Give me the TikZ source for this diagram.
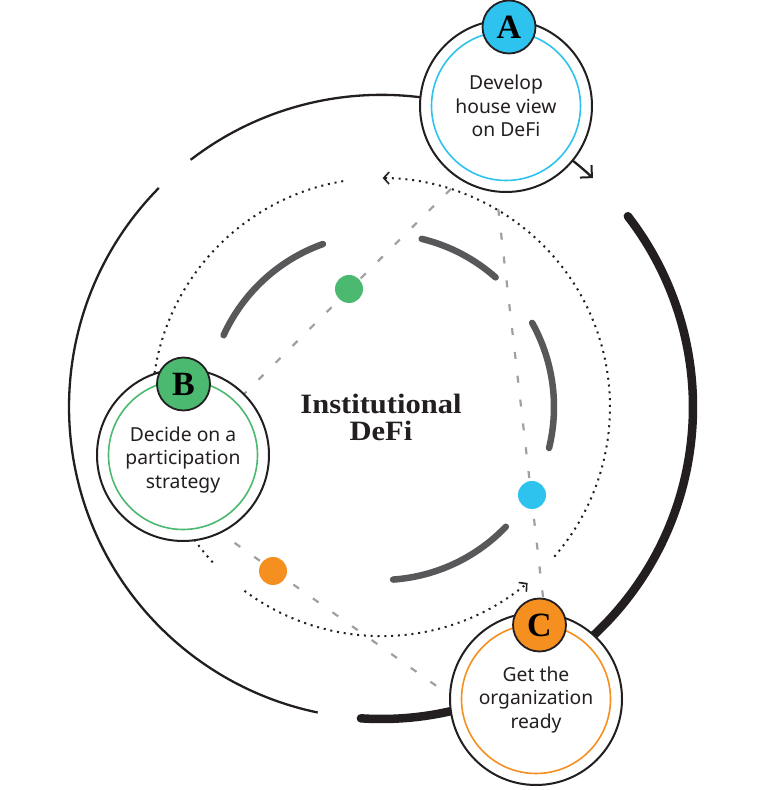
\documentclass[tikz,border=0pt]{standalone}
\usepackage{fontspec}
\newfontfamily\labelfont{Noto Sans}
\newfontfamily\headfont{Liberation Serif}
\usetikzlibrary{arrows.meta}
\definecolor{inkblack}{HTML}{231F20}
\definecolor{acyan}{HTML}{2DC3EE}
\definecolor{bgreen}{HTML}{4BB96F}
\definecolor{corange}{HTML}{F58F1F}
\definecolor{arcgray}{HTML}{58585A}
\definecolor{dashgray}{HTML}{A0A0A0}
\begin{document}
\begin{tikzpicture}[x=1pt,y=1pt,
  thinring/.style={draw=inkblack,line width=2.3pt},
  thickring/.style={draw=inkblack,line width=8.5pt,line cap=round},
  dotring/.style={draw=inkblack,line width=2pt,dash pattern=on 2pt off 4.8pt},
  grayarc/.style={draw=arcgray,line width=6.5pt,line cap=round},
  dashline/.style={draw=dashgray,line width=2.2pt,dash pattern=on 7pt off 17pt},
  bigarrow/.style={-{Straight Barb[length=8.5pt,width=17pt,line width=2pt]}},
  smallarrow/.style={-{Straight Barb[length=5.5pt,width=12pt,line width=1.6pt]}},
  dotnode/.style={circle,inner sep=0pt,minimum size=28pt},
  stepring/.style={circle,draw=inkblack,fill=white,line width=2pt,minimum size=172pt,inner sep=0pt},
  innerring/.style={circle,line width=1.6pt,minimum size=149pt,inner sep=0pt},
  badge/.style={circle,draw=inkblack,line width=1.8pt,minimum size=53pt,inner sep=0pt,
    font=\headfont\bfseries\fontsize{34}{34}\selectfont,text=black},
  steptext/.style={anchor=base,inner sep=0pt,text=inkblack,font=\labelfont\fontsize{19.3}{22}\selectfont},
  headtext/.style={anchor=base,inner sep=0pt,text=inkblack,font=\headfont\bfseries\fontsize{28}{30}\selectfont}
]
\useasboundingbox (0,0) rectangle (776,790);
\coordinate (O) at (381,383);

% outer ring
\draw[thinring,bigarrow] (O) ++(127.6:312) arc[start angle=127.6,end angle=47.2,radius=312];
\draw[thinring] (O) ++(135.4:312) arc[start angle=135.4,end angle=258.3,radius=312];
\draw[thickring] (O) ++(266.3:312) arc[start angle=266.3,end angle=397.7,radius=312];

% dotted ring
\draw[dotring] (O) ++(99.5:229) arc[start angle=99.5,end angle=176,radius=229];
\draw[dotring] (O) ++(212:229) arc[start angle=212,end angle=223.6,radius=229];
\draw[dotring,smallarrow] (O) ++(233.4:229) arc[start angle=233.4,end angle=309.8,radius=229];
\draw[dotring,smallarrow] (O) ++(-40.8:229) arc[start angle=-40.8,end angle=89.6,radius=229];

% inner gray arcs
\draw[grayarc] (O) ++(109.6:173) arc[start angle=109.6,end angle=155.5,radius=173];
\draw[grayarc] (O) ++(48.5:173) arc[start angle=48.5,end angle=76.4,radius=173];
\draw[grayarc] (O) ++(-13.7:173) arc[start angle=-13.7,end angle=29.1,radius=173];
\draw[grayarc] (O) ++(-86:173) arc[start angle=-86,end angle=-43.8,radius=173];

% dashed triangle lines
\coordinate (l1a) at (468,618);
\coordinate (l1b) at (235,387);
\coordinate (l2a) at (495.5,605);
\coordinate (l2b) at (544.5,180);
\coordinate (l3a) at (215,261);
\coordinate (l3b) at (452,93);
\draw[dashline] (l1a) -- (l1b);
\draw[dashline] (l2a) -- (l2b);
\draw[dashline] (l3a) -- (l3b);

% dots
\node[dotnode,fill=bgreen] (dotG) at (349,501) {};
\node[dotnode,fill=acyan] (dotA) at (532,295) {};
\node[dotnode,fill=corange] (dotO) at (273,219) {};

% step circles
\node[stepring] (circA) at (506,684) {};
\node[innerring,draw=acyan] (innA) at (506,684) {};
\node[stepring] (circB) at (183,335) {};
\node[innerring,draw=bgreen] (innB) at (183,335) {};
\node[stepring] (circC) at (536,91) {};
\node[innerring,draw=corange] (innC) at (536,91) {};

\node[badge,fill=acyan] (badA) at (509,763) {A};
\node[badge,fill=bgreen] (badB) at (183.5,406) {B};
\node[badge,fill=corange] (badC) at (539.5,165) {C};

% texts
\node[steptext] (ta1) at (506,700) {Develop};
\node[steptext] (ta2) at (506,676.7) {house view};
\node[steptext] (ta3) at (506,653.3) {on DeFi};

\node[steptext] (tb1) at (183,348.3) {Decide on a};
\node[steptext] (tb2) at (183,325) {participation};
\node[steptext] (tb3) at (183,301.7) {strategy};

\node[steptext] (tc1) at (536,108.3) {Get the};
\node[steptext] (tc2) at (536,85) {organization};
\node[steptext] (tc3) at (536,61.7) {ready};

\node[headtext] (h1) at (381,376.7) {\scalebox{1.09}[1]{Institutional}};
\node[headtext] (h2) at (381,349) {\scalebox{1.09}[1]{DeFi}};
\end{tikzpicture}
\end{document}
